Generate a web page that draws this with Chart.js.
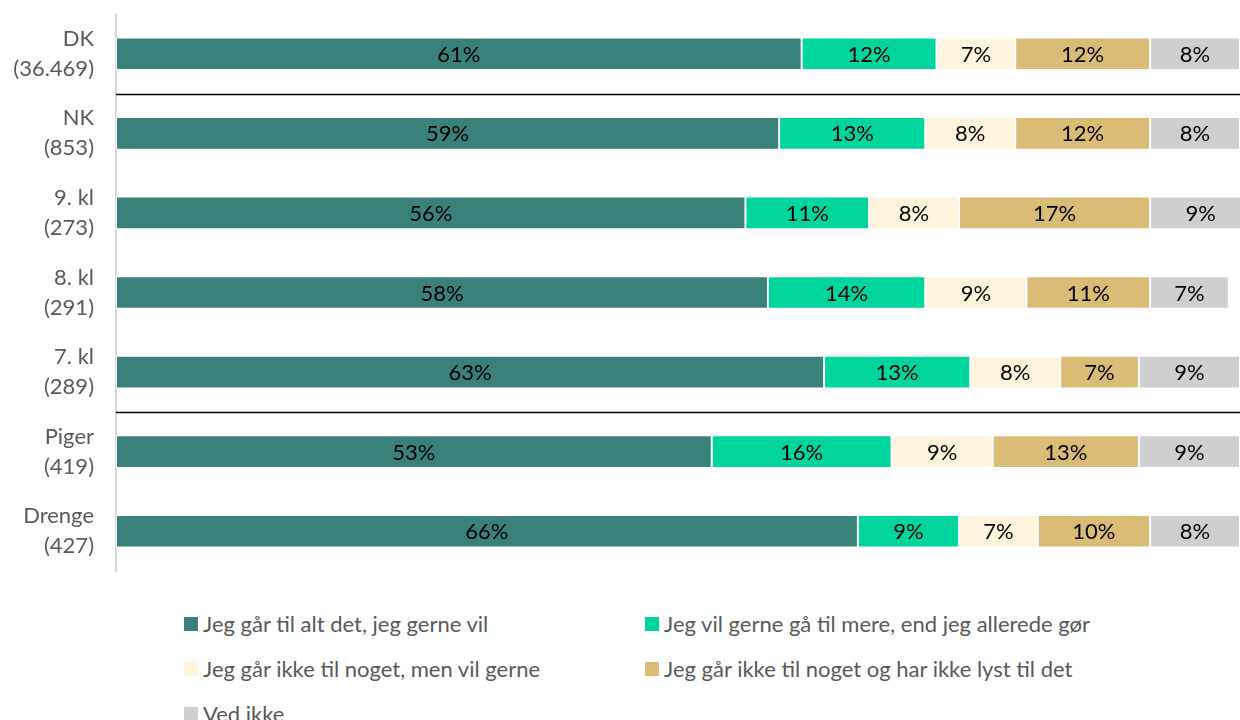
<!DOCTYPE html>
<html>
<head>
<meta charset="utf-8">
<script src="https://cdn.jsdelivr.net/npm/chart.js@4"></script>
<style>
  body { margin: 0; background: #fff; font-family: Lato, sans-serif; }
  #wrap { position: relative; width: 1240px; height: 720px; }
  #chartBox { position: absolute; left: 0; top: 0; width: 1240px; height: 580px; }
  .legend { position: absolute; left: 0; top: 610px; width: 1240px; }
  .item { position: absolute; display: flex; align-items: center; color: #595959; font-size: 22px; white-space: nowrap; }
  .item span.box { width: 14px; height: 14px; margin-right: 5px; display: inline-block; }
</style>
</head>
<body>
<div id="wrap">
  <div id="chartBox"><canvas id="chart"></canvas></div>
  <div class="legend" id="legend"></div>
</div>
<script>
const groups = [['DK', '(36.469)'], ['NK', '(853)'], ['9. kl', '(273)'], ['8. kl', '(291)'], ['7. kl', '(289)'], ['Piger', '(419)'], ['Drenge', '(427)']];
const answers = [
  'Jeg går til alt det, jeg gerne vil',
  'Jeg vil gerne gå til mere, end jeg allerede gør',
  'Jeg går ikke til noget, men vil gerne',
  'Jeg går ikke til noget og har ikke lyst til det',
  'Ved ikke'
];
const allOk = [61, 59, 56, 58, 63, 53, 66];
const wantMore = [12, 13, 11, 14, 13, 16, 9];
const noneButWant = [7, 8, 8, 9, 8, 9, 7];
const noneNoWant = [12, 12, 17, 11, 7, 13, 10];
const dontKnow = [8, 8, 9, 7, 9, 9, 8];
const colors = ['#3a817b', '#00d59e', '#fff5dc', '#dbbc76', '#d0cecf'];
// horizontal rules go under these group indexes
const dividersAfter = [0, 4];

const series = [allOk, wantMore, noneButWant, noneNoWant, dontKnow];

// legend laid out in two columns like the report
const legendPos = [[184, 0], [645, 0], [184, 45], [645, 45], [184, 90]];
const legendEl = document.getElementById('legend');
answers.forEach((a, i) => {
  const d = document.createElement('div');
  d.className = 'item';
  d.style.left = legendPos[i][0] + 'px';
  d.style.top = legendPos[i][1] + 'px';
  d.innerHTML = '<span class="box" style="background:' + colors[i] + '"></span>' + a;
  legendEl.appendChild(d);
});

const barLabels = {
  id: 'barLabels',
  afterDatasetsDraw(chart) {
    const ctx = chart.ctx;
    ctx.save();
    ctx.font = '22px Lato';
    ctx.fillStyle = '#000';
    ctx.textAlign = 'center';
    ctx.textBaseline = 'middle';
    chart.data.datasets.forEach((ds, di) => {
      chart.getDatasetMeta(di).data.forEach((bar, i) => {
        const x = (bar.x + bar.base) / 2;
        ctx.fillText(ds.data[i] + '%', x, bar.y + 1);
      });
    });
    ctx.restore();
  }
};

const dividers = {
  id: 'dividers',
  afterDraw(chart) {
    const ctx = chart.ctx, y = chart.scales.y, area = chart.chartArea;
    ctx.save();
    ctx.strokeStyle = '#000';
    ctx.lineWidth = 1.5;
    dividersAfter.forEach(i => {
      const py = Math.round((y.getPixelForValue(i) + y.getPixelForValue(i + 1)) / 2) + 0.5;
      ctx.beginPath();
      ctx.moveTo(area.left, py);
      ctx.lineTo(area.right, py);
      ctx.stroke();
    });
    ctx.restore();
  }
};

new Chart(document.getElementById('chart'), {
  type: 'bar',
  data: {
    labels: groups,
    datasets: series.map((vals, i) => ({
      label: answers[i],
      data: vals,
      backgroundColor: colors[i],
      borderColor: 'rgba(255,255,255,0.7)',
      borderWidth: 1,
      borderSkipped: false,
      barPercentage: 0.41,
      categoryPercentage: 1
    }))
  },
  options: {
    indexAxis: 'y',
    responsive: true,
    maintainAspectRatio: false,
    animation: false,
    layout: { padding: { top: 14, right: 0, bottom: 9, left: 0 } },
    plugins: { legend: { display: false }, tooltip: { enabled: false } },
    scales: {
      x: { stacked: true, min: 0, max: 100, display: false },
      y: {
        stacked: true,
        afterFit: s => { s.width = 116; s.paddingTop = 0; s.paddingBottom = 0; },
        grid: { display: false, drawTicks: false },
        border: { display: true, color: '#d9d9d9', width: 2 },
        ticks: { color: '#595959', font: { family: 'Lato', size: 22, lineHeight: 1.36 }, padding: 22 }
      }
    }
  },
  plugins: [barLabels, dividers]
});
</script>
</body>
</html>
